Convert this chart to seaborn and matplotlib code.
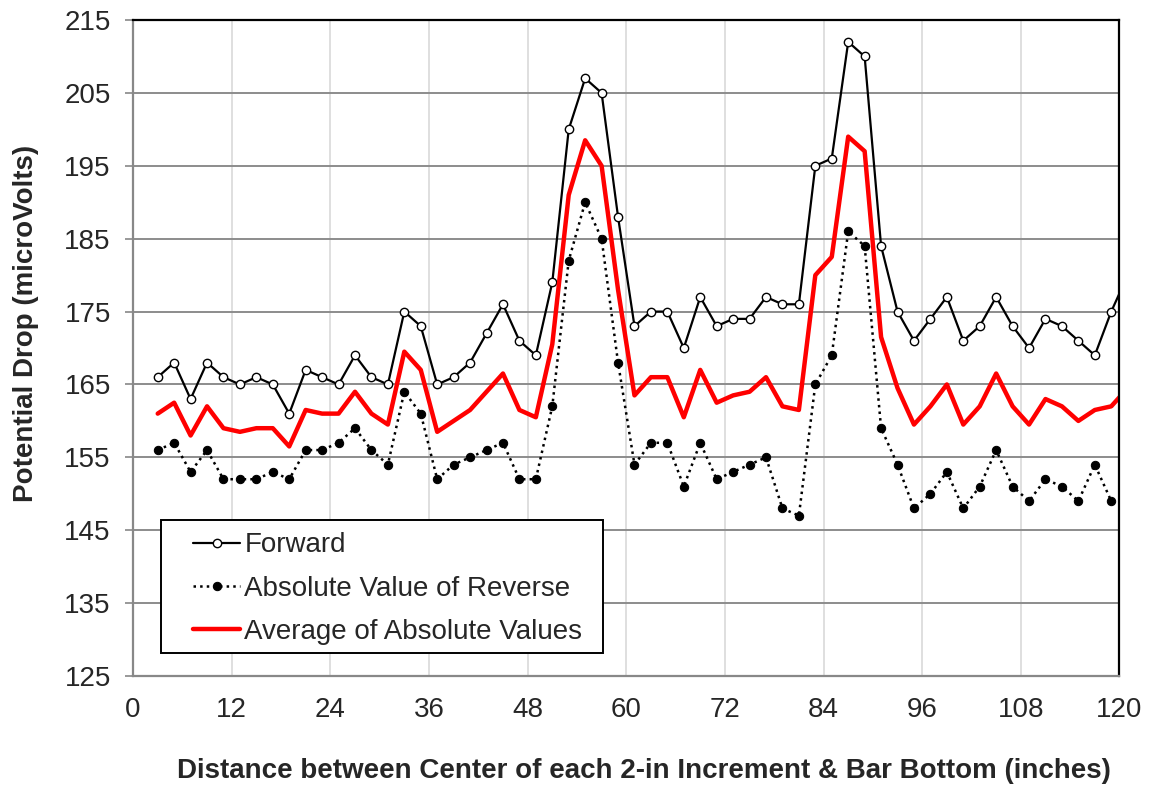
import numpy as np
import pandas as pd
import matplotlib
matplotlib.use("Agg")
import matplotlib.pyplot as plt
from matplotlib.patches import Rectangle
import seaborn as sns

# distance (in) at center of each 2-in increment
distance = [3, 5, 7, 9, 11, 13, 15, 17, 19, 21, 23, 25, 27, 29, 31, 33, 35, 37, 39, 41,
            43, 45, 47, 49, 51, 53, 55, 57, 59, 61, 63, 65, 67, 69, 71, 73, 75, 77, 79, 81,
            83, 85, 87, 89, 91, 93, 95, 97, 99, 101, 103, 105, 107, 109, 111, 113, 115, 117, 119, 121]

forward = [166, 168, 163, 168, 166, 165, 166, 165, 161, 167, 166, 165, 169, 166, 165, 175, 173, 165, 166, 168,
           172, 176, 171, 169, 179, 200, 207, 205, 188, 173, 175, 175, 170, 177, 173, 174, 174, 177, 176, 176,
           195, 196, 212, 210, 184, 175, 171, 174, 177, 171, 173, 177, 173, 170, 174, 173, 171, 169, 175, 180]

reverse_abs = [156, 157, 153, 156, 152, 152, 152, 153, 152, 156, 156, 157, 159, 156, 154, 164, 161, 152, 154, 155,
               156, 157, 152, 152, 162, 182, 190, 185, 168, 154, 157, 157, 151, 157, 152, 153, 154, 155, 148, 147,
               165, 169, 186, 184, 159, 154, 148, 150, 153, 148, 151, 156, 151, 149, 152, 151, 149, 154, 149, 149]

average = [161, 162.5, 158, 162, 159, 158.5, 159, 159, 156.5, 161.5, 161, 161, 164, 161, 159.5, 169.5, 167, 158.5, 160, 161.5,
           164, 166.5, 161.5, 160.5, 170.5, 191, 198.5, 195, 178, 163.5, 166, 166, 160.5, 167, 162.5, 163.5, 164, 166, 162, 161.5,
           180, 182.5, 199, 197, 171.5, 164.5, 159.5, 162, 165, 159.5, 162, 166.5, 162, 159.5, 163, 162, 160, 161.5, 162, 164.5]

xticks = list(range(0, 121, 12))
yticks = list(range(125, 216, 10))

df = pd.DataFrame({"dist": distance, "fwd": forward, "rev": reverse_abs, "avg": average})

sns.set_style("white")
plt.rcParams["font.family"] = ["Liberation Sans", "DejaVu Sans"]

fig = plt.figure(figsize=(11.49, 7.88), dpi=100)
ax = fig.add_axes([0.1158, 0.1421, 0.8585, 0.8325])

sns.lineplot(data=df, x="dist", y="fwd", ax=ax, color="black", lw=1.6,
             marker="o", markersize=6, markerfacecolor="white", markeredgecolor="black",
             markeredgewidth=1.0, label="Forward")
sns.lineplot(data=df, x="dist", y="rev", ax=ax, color="black", lw=1.8, linestyle=":",
             marker="o", markersize=6, markerfacecolor="black", markeredgecolor="black",
             label="Absolute Value of Reverse")
sns.lineplot(data=df, x="dist", y="avg", ax=ax, color="#ff0000", lw=3.2,
             label="Average of Absolute Values")

ax.set_xlim(0, 120)
ax.set_ylim(125, 215)
ax.set_xticks(xticks)
ax.set_yticks(yticks)
ax.tick_params(axis="y", labelsize=20, length=6, width=1.2, color="#888888", pad=10, left=True)
ax.tick_params(axis="x", labelsize=20, length=0, pad=15)

ax.yaxis.grid(True, color="#8c8c8c", lw=1.4)
ax.xaxis.grid(True, color="#d9d9d9", lw=1.2)
ax.set_axisbelow(True)

for s in ["left", "bottom"]:
    ax.spines[s].set_color("#888888")
    ax.spines[s].set_linewidth(1.6)
for s in ["top", "right"]:
    ax.spines[s].set_color("black")
    ax.spines[s].set_linewidth(1.6)

ax.set_xlabel("Distance between Center of each 2-in Increment & Bar Bottom (inches)",
              fontsize=20, fontweight="bold")
ax.set_ylabel("Potential Drop (microVolts)", fontsize=20, fontweight="bold")
ax.xaxis.set_label_coords(0.518, -0.125)
ax.yaxis.set_label_coords(-0.095, 0.538)

# legend box drawn separately so the handles sit indented like the original
ax.add_patch(Rectangle((0.0284, 0.035), 0.448, 0.203, transform=ax.transAxes,
                       facecolor="white", edgecolor="black", lw=1.4, zorder=4))
leg = ax.legend(loc="upper left", bbox_to_anchor=(0.0608, 0.219), fontsize=20,
                frameon=False, handlelength=1.7, handletextpad=0.15, borderpad=0,
                labelspacing=0.62, borderaxespad=0)
leg.set_zorder(5)

fig.savefig("out.png", dpi=100)
